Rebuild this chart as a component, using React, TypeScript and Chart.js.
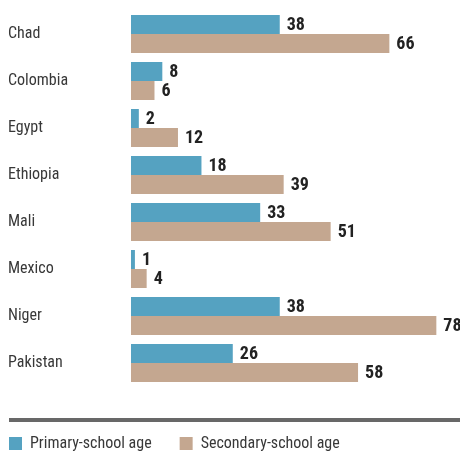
import React, { useEffect, useRef } from "react";
import { Chart, registerables } from "chart.js";

Chart.register(...registerables);

const categories = ["Chad", "Colombia", "Egypt", "Ethiopia", "Mali", "Mexico", "Niger", "Pakistan"];
const primary = [38, 8, 2, 18, 33, 1, 38, 26];
const secondary = [66, 6, 12, 39, 51, 4, 78, 58];
const seriesNames = ["Primary-school age", "Secondary-school age"];

const BLUE = "#55a2c1";
const TAN = "#c4a790";
const FONT = "'Roboto Condensed', 'Open Sans', sans-serif";
const LEGEND_PAD = 28;

const valueLabels = {
  id: "valueLabels",
  afterDatasetsDraw(chart: any) {
    const ctx = chart.ctx;
    ctx.save();
    ctx.font = `bold 18px ${FONT}`;
    ctx.fillStyle = "#222";
    ctx.textAlign = "left";
    ctx.textBaseline = "middle";
    chart.data.datasets.forEach((ds: any, di: number) => {
      const meta = chart.getDatasetMeta(di);
      meta.data.forEach((bar: any, i: number) => {
        ctx.fillText(String(ds.data[i]), bar.x + 7, bar.y + 0.5);
      });
    });
    ctx.restore();
  },
};

const separator = {
  id: "separator",
  afterLayout(chart: any) {
    const lg = chart.legend;
    if (lg) {
      lg.left = 9 - LEGEND_PAD;
      lg.top = 435.5 - LEGEND_PAD;
      lg.right = 460;
      lg.bottom = 454;
    }
  },
  afterDraw(chart: any) {
    const ctx = chart.ctx;
    ctx.save();
    ctx.fillStyle = "#686868";
    ctx.fillRect(9, 418, 451, 4);
    ctx.restore();
  },
};

export default function App() {
  const ref = useRef<HTMLCanvasElement>(null);
  useEffect(() => {
    const chart = new Chart(ref.current!, {
      type: "bar",
      data: {
        labels: categories,
        datasets: [
          { label: seriesNames[0], data: primary, backgroundColor: BLUE, borderWidth: 0 },
          { label: seriesNames[1], data: secondary, backgroundColor: TAN, borderWidth: 0 },
        ],
      },
      options: {
        indexAxis: "y",
        animation: false,
        responsive: false,
        devicePixelRatio: 1,
        layout: { padding: { left: 8, right: 8, top: 10.5, bottom: 13.5 } },
        datasets: { bar: { barPercentage: 1, categoryPercentage: 38 / 47 } },
        scales: {
          x: { display: false, min: 0, max: 82 },
          y: {
            position: "left",
            grid: { display: false },
            border: { display: false },
            ticks: {
              crossAlign: "far",
              color: "#383838",
              font: { family: FONT, size: 16 },
              padding: 0,
            },
            afterFit(scale: any) {
              scale.width = 123;
            },
          },
        },
        plugins: {
          tooltip: { enabled: false },
          legend: {
            position: "bottom",
            align: "start",
            labels: {
              boxWidth: 13,
              boxHeight: 13,
              padding: LEGEND_PAD,
              color: "#383838",
              font: { family: FONT, size: 16 },
            },
          },
        },
      },
      plugins: [valueLabels, separator],
    });
    return () => chart.destroy();
  }, []);
  return (
    <div style={{ position: "fixed", left: 0, top: 0, width: 460, height: 454, background: "#fff" }}>
      <canvas ref={ref} width={460} height={454} style={{ display: "block", width: 460, height: 454 }} />
    </div>
  );
}
